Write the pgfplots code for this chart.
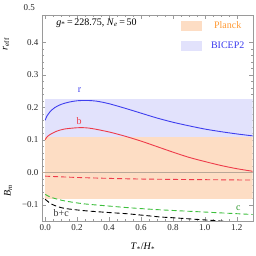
\documentclass[border=0pt]{standalone}
\usepackage{fontspec}
\setmainfont{Liberation Serif}
\usepackage{pgfplots}
\pgfplotsset{compat=1.18}
\definecolor{planck}{HTML}{FDDDC4}
\definecolor{bicep}{HTML}{E2E2FC}
\definecolor{rblue}{HTML}{3F3FEF}
\definecolor{bred}{HTML}{EE3B4A}
\definecolor{cgreen}{HTML}{3CBF3C}
\definecolor{ptext}{HTML}{FF9933}
\definecolor{btext}{HTML}{3A3AEE}
\definecolor{framec}{HTML}{9A9A9A}
\definecolor{zline}{HTML}{B9A797}
\begin{document}
\begin{tikzpicture}
\useasboundingbox (-42pt,-35pt) rectangle (214pt,221pt);
\begin{axis}[
  at={(0,0)}, anchor=south west,
  scale only axis, width=210.7pt, height=206pt,
  xmin=-0.02, xmax=1.3, ymin=-0.15, ymax=0.484,
  clip mode=individual,
  axis line style={framec},
  every tick/.style={framec},
  tick align=inside,
  major tick length=4pt, minor tick length=2pt,
  xtick={0,0.2,0.4,0.6,0.8,1.0,1.2},
  xticklabels={0.0,0.2,0.4,0.6,0.8,1.0,1.2},
  ytick={-0.1,0,0.1,0.2,0.3,0.4},
  yticklabels={−0.1,0.0,0.1,0.2,0.3,0.4},
  minor x tick num=3, minor y tick num=4,
  tick label style={font=\fontsize{9}{10}\selectfont, text=black!85},
  legend style={at={(rel axis cs:0.66,0.972)}, anchor=north west, draw=none, fill=none,
    inner sep=0pt, outer sep=0pt, row sep=10pt,
    font=\fontsize{10}{11}\selectfont, nodes={inner sep=1pt}},
]
\addplot[draw=none, fill=planck, legend image code/.code={\fill[planck] (0pt,-5pt) rectangle (21pt,5pt);}] coordinates {(0,-0.082) (1.3,-0.082) (1.3,0.11) (0,0.11)} -- cycle;
\addlegendentry{\hspace{8pt}\textcolor{ptext}{Planck}}
\addplot[draw=none, fill=bicep, legend image code/.code={\fill[bicep] (0pt,-5pt) rectangle (21pt,5pt);}] coordinates {(0,0.11) (1.3,0.11) (1.3,0.224) (0,0.224)} -- cycle;
\addlegendentry{\hspace{8pt}\textcolor{btext}{BICEP2}}
\addplot[zline, line width=0.8pt, forget plot] coordinates {(-0.02,0) (1.3,0)};
% r
\addplot[rblue, line width=0.9pt, smooth, forget plot] coordinates {
(0,0.160) (0.01,0.172) (0.03,0.186) (0.06,0.199) (0.1,0.209) (0.15,0.216) (0.2,0.220) (0.26,0.221)
(0.32,0.219) (0.4,0.211) (0.5,0.197) (0.6,0.182) (0.7,0.167) (0.8,0.154) (0.9,0.143) (1.0,0.133)
(1.1,0.125) (1.2,0.118) (1.3,0.112)};
% b
\addplot[bred, line width=0.9pt, smooth, forget plot] coordinates {
(0,0.100) (0.01,0.108) (0.03,0.116) (0.07,0.126) (0.12,0.133) (0.2,0.137) (0.25,0.137) (0.3,0.134)
(0.4,0.124) (0.5,0.111) (0.6,0.096) (0.7,0.079) (0.8,0.062) (0.9,0.046) (1.0,0.033) (1.1,0.021)
(1.2,0.011) (1.3,0.003)};
% b dashed
\addplot[bred, line width=0.9pt, smooth, dash pattern=on 5pt off 3pt, forget plot] coordinates {
(0,-0.012) (0.2,-0.016) (0.5,-0.020) (0.8,-0.022) (1.3,-0.024)};
% c
\addplot[cgreen, line width=0.9pt, smooth, dash pattern=on 5pt off 3pt, forget plot] coordinates {
(0,-0.068) (0.03,-0.076) (0.063,-0.081) (0.12,-0.088) (0.24,-0.097) (0.4,-0.104) (0.52,-0.109)
(0.7,-0.115) (0.94,-0.121) (1.1,-0.125) (1.3,-0.130)};
% b+c
\addplot[black, line width=0.9pt, smooth, dash pattern=on 5pt off 3pt, forget plot] coordinates {
(0,-0.083) (0.03,-0.095) (0.063,-0.103) (0.12,-0.111) (0.24,-0.118) (0.4,-0.124) (0.52,-0.128)
(0.73,-0.138) (0.8,-0.140) (0.95,-0.145) (1.07,-0.149) (1.15,-0.152)};
\node[text=rblue, font=\fontsize{10}{11}\selectfont] at (axis cs:0.215,0.253) {r};
\node[text=bred, font=\fontsize{10}{11}\selectfont] at (axis cs:0.213,0.158) {b};
\node[text=cgreen!80!black, font=\fontsize{10}{11}\selectfont] at (axis cs:1.21,-0.11) {c};
\node[text=black!80, font=\fontsize{10}{11}\selectfont] at (axis cs:0.1,-0.126) {b+c};
\node[anchor=west, font=\fontsize{10}{11}\selectfont] at (rel axis cs:0.052,0.961)
  {\textit{g}\textsubscript{*}\,=\,228.75, \textit{N}\textsubscript{\textit{e}}\,=\,50};
\node[anchor=east, font=\fontsize{9}{10}\selectfont, text=black!85, xshift=-3.5pt] at (rel axis cs:0,1.036) {0.5};
\node[rotate=90, font=\fontsize{10}{11}\selectfont] at (rel axis cs:-0.171,0.859) {\textit{r}\textsubscript{eff}};
\node[rotate=90, font=\fontsize{10}{11}\selectfont] at (rel axis cs:-0.161,0.146) {\textit{B}\textsubscript{\textit{m}}};
\node[font=\fontsize{10}{11}\selectfont] at (rel axis cs:0.479,-0.126) {\textit{T}\textsubscript{*}/\textit{H}\textsubscript{*}};
\end{axis}
\end{tikzpicture}
\end{document}
